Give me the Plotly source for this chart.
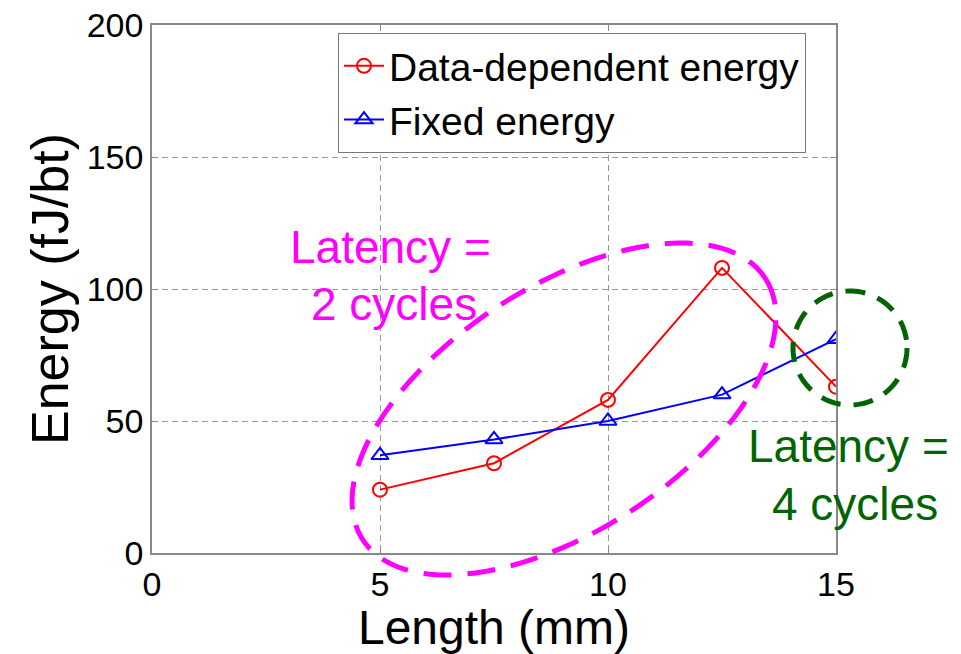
import numpy as np
import plotly.graph_objects as go

# ---- data ----
length_mm = [5, 7.5, 10, 12.5, 15]
data_dependent_energy = [24, 34, 58, 108, 63]
fixed_energy = [37, 43, 50, 60, 81]
x_ticks = [0, 5, 10, 15]
y_ticks = [0, 50, 100, 150, 200]

FONT = "Liberation Sans, Arial, sans-serif"
W, H = 961, 654
# plot area in page pixels
L, R, T, B = 152, 836, 25, 553


def px(x):
    return (x - L) / (R - L)


def py(y):
    return (B - y) / (B - T)


def ellipse_path(cx, cy, a, b, ang_deg, n=120):
    th = np.linspace(0, 2 * np.pi, n)
    ang = np.deg2rad(ang_deg)
    ux, uy = np.cos(ang), -np.sin(ang)
    vx, vy = np.sin(ang), np.cos(ang)
    xs = cx + a * np.cos(th) * ux + b * np.sin(th) * vx
    ys = cy + a * np.cos(th) * uy + b * np.sin(th) * vy
    pts = [f"{px(x):.5f},{py(y):.5f}" for x, y in zip(xs, ys)]
    return "M" + " L".join(pts) + " Z"


fig = go.Figure()
fig.add_trace(go.Scatter(
    x=length_mm, y=data_dependent_energy, name="Data-dependent energy",
    mode="lines+markers",
    line=dict(color="#ff0000", width=2),
    marker=dict(symbol="circle-open", size=14, color="#ff0000", line=dict(width=2)),
))
fig.add_trace(go.Scatter(
    x=length_mm, y=fixed_energy, name="Fixed energy",
    mode="lines+markers",
    line=dict(color="#0000ff", width=2),
    marker=dict(symbol="triangle-up-open", size=15, color="#0000ff", line=dict(width=2)),
))

axis_common = dict(
    showline=True, linecolor="#888888", linewidth=1.5, mirror="ticks",
    ticks="inside", ticklen=6, tickcolor="#888888",
    showgrid=True, gridcolor="#999999", gridwidth=1, griddash="6px,4px",
    zeroline=False, automargin=False, ticklabeloverflow="allow",
    tickfont=dict(family=FONT, size=34, color="#000000"),
)

fig.update_xaxes(
    range=[0, 15], tickvals=x_ticks, ticktext=[str(v) for v in x_ticks],
    title=dict(text="Length (mm)", font=dict(family=FONT, size=48, color="#000000"), standoff=4),
    **axis_common,
)
fig.update_yaxes(
    range=[0, 200], tickvals=y_ticks, ticktext=[str(v) for v in y_ticks],
    title=dict(text="Energy (fJ/bt)", font=dict(family=FONT, size=52, color="#000000"), standoff=2),
    **axis_common,
)

shapes = [
    dict(type="path", xref="paper", yref="paper",
         path=ellipse_path(564, 409, 240, 122, 33),
         line=dict(color="#ff00ff", width=5, dash="28px,16px")),
    dict(type="path", xref="paper", yref="paper",
         path=ellipse_path(850, 348, 57, 57, 0),
         line=dict(color="#006400", width=5, dash="20px,13px")),
]

annotations = [
    dict(text="Latency =", x=px(390), y=py(247), xref="paper", yref="paper",
         showarrow=False, xanchor="center", yanchor="middle",
         font=dict(family=FONT, size=46, color="#ff00ff")),
    dict(text="2 cycles", x=px(394), y=py(304), xref="paper", yref="paper",
         showarrow=False, xanchor="center", yanchor="middle",
         font=dict(family=FONT, size=46, color="#ff00ff")),
    dict(text="Latency =", x=px(848), y=py(446), xref="paper", yref="paper",
         showarrow=False, xanchor="center", yanchor="middle",
         font=dict(family=FONT, size=46, color="#006400")),
    dict(text="4 cycles", x=px(855), y=py(504), xref="paper", yref="paper",
         showarrow=False, xanchor="center", yanchor="middle",
         font=dict(family=FONT, size=46, color="#006400")),
]

fig.update_layout(
    width=W, height=H,
    margin=dict(l=L, r=W - R, t=T, b=H - B, pad=0, autoexpand=False),
    paper_bgcolor="#ffffff", plot_bgcolor="#ffffff",
    font=dict(family=FONT, color="#000000"),
    showlegend=True,
    legend=dict(
        x=px(338), y=py(33), xanchor="left", yanchor="top",
        bgcolor="#ffffff", bordercolor="#777777", borderwidth=1,
        font=dict(family=FONT, size=39, color="#000000"),
        tracegroupgap=0, itemwidth=40,
    ),
    shapes=shapes,
    annotations=annotations,
)

fig.write_html(
    "out.html",
    config={"displayModeBar": False},
    post_script="document.body.style.margin='0';document.body.style.overflow='hidden';",
)
